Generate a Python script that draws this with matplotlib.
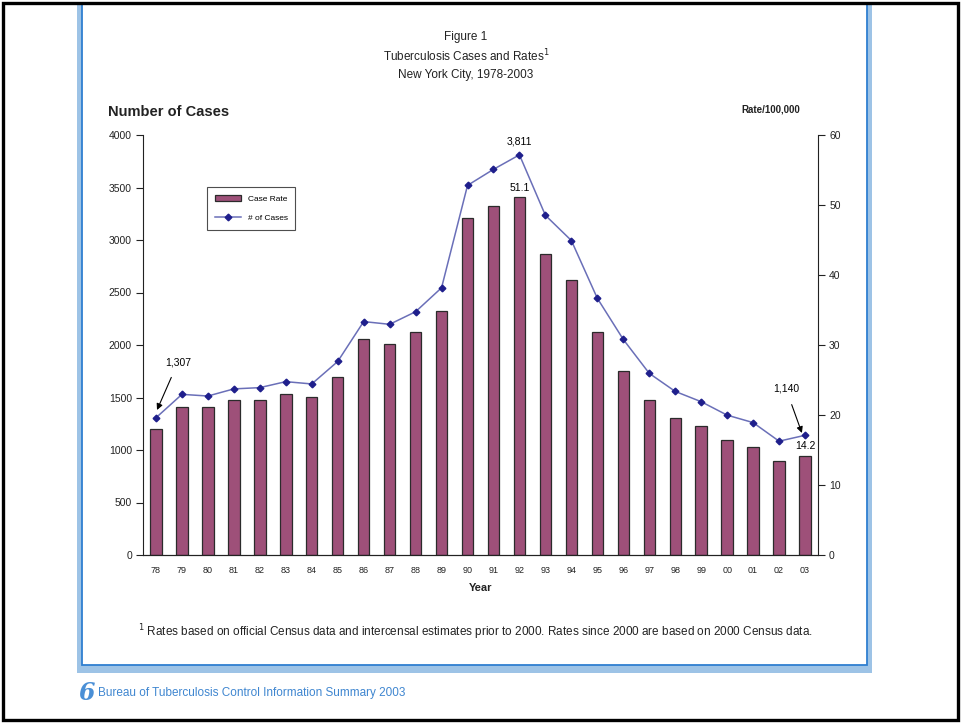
import matplotlib
matplotlib.use("Agg")
import matplotlib.pyplot as plt
from matplotlib.patches import Rectangle
import numpy as np

# Year labels, TB case counts and case rates per 100,000 (NYC 1978-2003)
years = ["78", "79", "80", "81", "82", "83", "84", "85", "86", "87", "88", "89", "90",
         "91", "92", "93", "94", "95", "96", "97", "98", "99", "00", "01", "02", "03"]
cases = [1307, 1530, 1514, 1582, 1594, 1651, 1629, 1843, 2223, 2197, 2317, 2545, 3520,
         3673, 3811, 3235, 2995, 2445, 2053, 1730, 1558, 1460, 1332, 1261, 1084, 1140]
rates = [18.0, 21.2, 21.2, 22.1, 22.2, 23.0, 22.6, 25.5, 30.8, 30.2, 31.9, 34.9, 48.1,
         49.8, 51.1, 43.0, 39.3, 31.9, 26.3, 22.1, 19.6, 18.4, 16.4, 15.5, 13.4, 14.2]

W, H = 961, 723
plt.rcParams["font.family"] = ["Liberation Sans", "DejaVu Sans"]

fig = plt.figure(figsize=(W / 100, H / 100), dpi=100)


def fx(px):
    return px / W


def fy(py):
    return 1 - py / H


# page frame: light blue band with a darker inner line, then the outer black border
fig.patches.append(Rectangle((fx(77), fy(673)), fx(872 - 77), fy(4) - fy(673),
                             transform=fig.transFigure, facecolor="#9dc3e6",
                             edgecolor="none", zorder=-3))
fig.patches.append(Rectangle((fx(82), fy(665)), fx(867 - 82), fy(4) - fy(665),
                             transform=fig.transFigure, facecolor="white",
                             edgecolor="#2f7fd0", linewidth=1.3, zorder=-2))
fig.patches.append(Rectangle((fx(3), fy(720)), fx(955), fy(3) - fy(720),
                             transform=fig.transFigure, facecolor="none",
                             edgecolor="black", linewidth=2.4, zorder=10))

ax = fig.add_axes([fx(143), fy(555), fx(818 - 143), fy(135) - fy(555)])
ax2 = ax.twinx()

x = np.arange(len(years))
bars = ax2.bar(x, rates, width=0.44, color="#9e5079", edgecolor="#2b2b2b",
               linewidth=0.9, label="Case Rate")
line, = ax.plot(x, cases, color="#6a6fb8", linewidth=1.1, marker="D",
                markersize=3.4, markerfacecolor="#1f1f8c", markeredgecolor="#1f1f8c",
                label="# of Cases")

# draw the line over the bars
ax.set_zorder(ax2.get_zorder() + 1)
ax.patch.set_visible(False)

ax.set_xlim(-0.5, len(years) - 0.5)
ax.set_ylim(0, 4000)
ax2.set_ylim(0, 60)
ax.set_yticks(np.arange(0, 4001, 500))
ax2.set_yticks(np.arange(0, 61, 10))
ax.set_xticks(x)
ax.set_xticklabels(years)

for a in (ax, ax2):
    a.spines["top"].set_visible(False)
    a.spines["left"].set_color("#222222")
    a.spines["right"].set_color("#222222")
    a.spines["bottom"].set_color("#222222")
ax.spines["right"].set_visible(False)
ax2.spines["left"].set_visible(False)
ax.tick_params(axis="y", length=5, width=0.8, labelsize=7.5, pad=3, colors="#222222")
ax2.tick_params(axis="y", length=5, width=0.8, labelsize=7.5, pad=3, colors="#222222")
ax.tick_params(axis="x", length=0, labelsize=6.5, pad=8, colors="#222222")
ax.set_xlabel("Year", fontsize=8, fontweight="bold", labelpad=6, color="#222222")

leg = ax.legend([bars, line], ["Case Rate", "# of Cases"], loc="upper left",
                bbox_to_anchor=(0.095, 0.876), borderaxespad=0, fontsize=6,
                frameon=True, fancybox=False, edgecolor="#222222",
                handlelength=3.2, handleheight=0.9, borderpad=0.9, labelspacing=1.3)
leg.get_frame().set_linewidth(0.8)

# value callouts
ax.annotate("1,307", xy=(0.04, 1381), xytext=(0.85, 1838), fontsize=7.5,
            ha="center", va="center",
            arrowprops=dict(arrowstyle="-|>", color="black", lw=0.8,
                            shrinkA=6, shrinkB=0, mutation_scale=9))
ax.annotate("1,140", xy=(24.88, 1162), xytext=(24.27, 1581), fontsize=7.5,
            ha="center", va="center",
            arrowprops=dict(arrowstyle="-|>", color="black", lw=0.8,
                            shrinkA=6, shrinkB=0, mutation_scale=9))
i_peak = int(np.argmax(cases))
ax.annotate(f"{cases[i_peak]:,}", xy=(i_peak, cases[i_peak]), xytext=(0, 6),
            textcoords="offset points", ha="center", va="bottom", fontsize=7.5)
ax2.annotate(f"{rates[i_peak]:.1f}", xy=(i_peak, rates[i_peak]), xytext=(0, 3),
             textcoords="offset points", ha="center", va="bottom", fontsize=7.5)
ax2.annotate(f"{rates[-1]:.1f}", xy=(len(rates) - 1, rates[-1]), xytext=(0, 3),
             textcoords="offset points", ha="center", va="bottom", fontsize=7.5)

# titles
fig.text(fx(466), fy(37), "Figure 1", ha="center", va="center", fontsize=8.5, color="#222222")
fig.text(fx(466), fy(56), "Tuberculosis Cases and Rates$^1$", ha="center", va="center",
         fontsize=8.5, color="#222222")
fig.text(fx(466), fy(75), "New York City, 1978-2003", ha="center", va="center",
         fontsize=8.5, color="#222222")
fig.text(fx(108), fy(112), "Number of Cases", ha="left", va="center", fontsize=10.5,
         fontweight="bold", color="#222222")
fig.text(fx(800), fy(110), "Rate/100,000", ha="right", va="center", fontsize=7,
         fontweight="bold", color="#222222")

fig.text(fx(475), fy(632), "$^1$ Rates based on official Census data and intercensal "
         "estimates prior to 2000. Rates since 2000 are based on 2000 Census data.",
         ha="center", va="center", fontsize=8.5, color="#222222")

fig.text(fx(78), fy(693), "6", ha="left", va="center", fontsize=17, style="italic",
         fontweight="bold", color="#4a8fd6", family="DejaVu Serif")
fig.text(fx(98), fy(693), "Bureau of Tuberculosis Control Information Summary 2003",
         ha="left", va="center", fontsize=8.5, color="#3f86d0")

fig.savefig("out.png", dpi=100)
